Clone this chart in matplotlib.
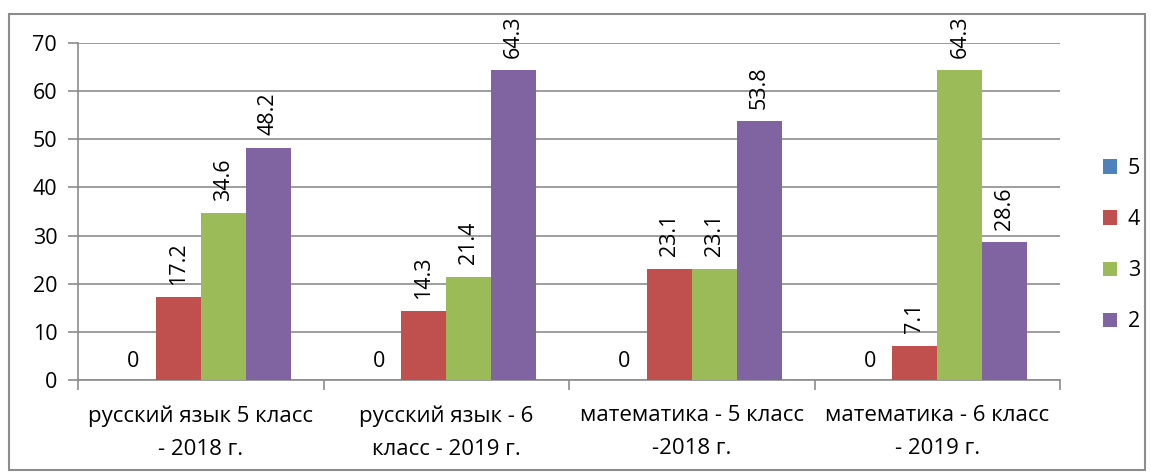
import numpy as np
import matplotlib
matplotlib.use("Agg")
import matplotlib.pyplot as plt
from matplotlib.patches import Rectangle

plt.rcParams['font.family'] = ['Open Sans', 'DejaVu Sans']

# данные
categories = ["русский язык 5 класс\n- 2018 г.", "русский язык - 6\nкласс - 2019 г.",
              "математика - 5 класс\n-2018 г.", "математика - 6 класс\n- 2019 г."]
series_names = ["5", "4", "3", "2"]
values_5 = [0, 0, 0, 0]
values_4 = [17.2, 14.3, 23.1, 7.1]
values_3 = [34.6, 21.4, 23.1, 64.3]
values_2 = [48.2, 64.3, 53.8, 28.6]
colors = ["#4F81BD", "#C0504D", "#9BBB59", "#8064A2"]

fs = 15.5

fig = plt.figure(figsize=(11.51, 4.73), dpi=100)
ax = fig.add_axes([0.0678, 0.1966, 0.8532, 0.7124])

x = np.arange(len(categories))
w = 0.183
all_vals = [values_5, values_4, values_3, values_2]
for i, (vals, name, c) in enumerate(zip(all_vals, series_names, colors)):
    pos = x + (i - 1.5) * w
    ax.bar(pos, vals, w, color=c, label=name, zorder=3)
    for p, v in zip(pos, vals):
        if v == 0:
            ax.annotate("0", (p, v), xytext=(0, 6), textcoords="offset points",
                        ha="center", va="bottom", fontsize=fs)
        else:
            ax.annotate(f"{v:g}", (p, v), xytext=(0, 9), textcoords="offset points",
                        ha="center", va="bottom", rotation=90, fontsize=fs)

ax.set_xlim(-0.5, 3.5)
ax.set_ylim(0, 70)
ax.set_yticks(range(0, 71, 10))
ax.yaxis.grid(True, color="#8c8c8c", linewidth=1.2, zorder=0)
ax.set_xticks(np.arange(-0.5, 4, 1))
ax.set_xticklabels([])
ax.set_xticks(x, minor=True)
ax.set_xticklabels(categories, minor=True, fontsize=fs + 0.5, linespacing=1.75)
ax.tick_params(axis="x", which="minor", length=0, pad=18)
ax.tick_params(axis="x", which="major", length=7, color="#8c8c8c", width=1.2)
ax.tick_params(axis="y", length=7, color="#8c8c8c", width=1.2, labelsize=fs, pad=8)
for s in ["top", "right"]:
    ax.spines[s].set_visible(False)
for s in ["left", "bottom"]:
    ax.spines[s].set_color("#8c8c8c")
    ax.spines[s].set_linewidth(1.2)

ax.legend(loc="center left", bbox_to_anchor=(1.035, 0.4), frameon=False,
          fontsize=fs, handlelength=0.65, handleheight=0.65, labelspacing=1.4,
          handletextpad=0.5, borderaxespad=0)

fig.patches.append(Rectangle((9 / 1151, 3 / 473), 1136 / 1151, 456 / 473,
                             transform=fig.transFigure, fill=False,
                             edgecolor="#8c8c8c", linewidth=1.5))

fig.savefig("out.png", dpi=100)
